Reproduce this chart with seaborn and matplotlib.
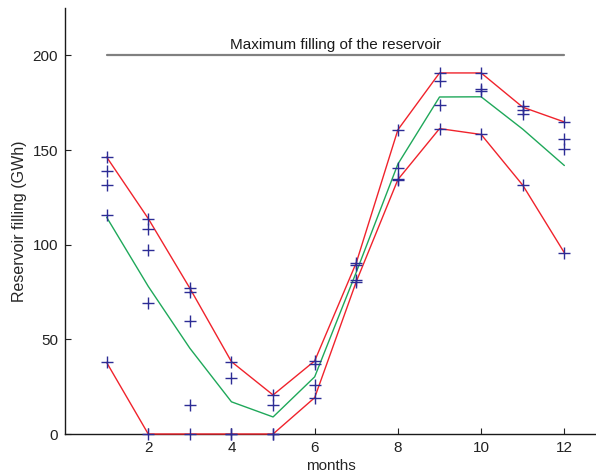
import numpy as np
import pandas as pd
import matplotlib
matplotlib.use("Agg")
import matplotlib.pyplot as plt
import seaborn as sns

# Months of the simulation year
months = [1, 2, 3, 4, 5, 6, 7, 8, 9, 10, 11, 12]

# Reservoir filling of each simulated inflow year (GWh), one list per month
scenario_fill = [
    [146.3, 138.8, 131.4, 115.6, 37.8],
    [113.8, 108.2, 97.4, 69.0, 0.0],
    [76.9, 74.8, 59.8, 15.3, 0.0],
    [38.2, 29.4, 0.0, 0.0],
    [20.6, 15.3, 0.0, 0.0],
    [38.6, 37.0, 25.9, 19.2],
    [90.5, 89.0, 81.5, 80.5],
    [160.7, 140.7, 134.9, 134.4],
    [190.7, 186.3, 173.6, 161.3],
    [190.7, 182.4, 181.2, 158.2],
    [173.1, 171.0, 169.2, 131.4],
    [164.8, 156.0, 150.4, 95.7],
]

# Envelope and mean of the scenarios (GWh)
upper_fill = [146.3, 113.8, 77.0, 38.2, 20.6, 38.6, 90.5, 160.7, 190.7, 190.7, 172.6, 164.8]
lower_fill = [37.8, 0.0, 0.0, 0.0, 0.0, 19.2, 80.5, 134.4, 161.3, 158.2, 131.4, 95.7]
mean_fill = [114.5, 78.0, 45.3, 17.0, 9.0, 30.2, 85.5, 142.6, 178.0, 178.1, 161.0, 141.8]

# Reservoir capacity
max_fill = 200
max_label = "Maximum filling of the reservoir"

x_ticks = [2, 4, 6, 8, 10, 12]
y_ticks = [0, 50, 100, 150, 200]

sns.set_style("ticks")
plt.rcParams["font.family"] = ["Liberation Sans", "DejaVu Sans"]
plt.rcParams["font.size"] = 11

points = pd.DataFrame(
    [(m, v) for m, vals in zip(months, scenario_fill) for v in vals],
    columns=["month", "fill"],
)
lines = pd.DataFrame({
    "month": months,
    "upper": upper_fill,
    "lower": lower_fill,
    "mean": mean_fill,
})
cap = pd.DataFrame({"month": [months[0], months[-1]], "fill": [max_fill, max_fill]})

fig = plt.figure(figsize=(5.96, 4.74), dpi=100)
ax = fig.add_axes([65 / 596, 40 / 474, 1 - 65 / 596, 426 / 474])

red = "#f0232c"
green = "#1fa85a"

sns.lineplot(data=cap, x="month", y="fill", ax=ax, color="#808080", linewidth=1.6)
sns.lineplot(data=lines, x="month", y="upper", ax=ax, color=red, linewidth=1.0,
             clip_on=False, zorder=3)
sns.lineplot(data=lines, x="month", y="mean", ax=ax, color=green, linewidth=1.0,
             clip_on=False, zorder=3)
sns.lineplot(data=lines, x="month", y="lower", ax=ax, color=red, linewidth=1.0,
             clip_on=False, zorder=3)
sns.scatterplot(data=points, x="month", y="fill", ax=ax, marker="+", s=70,
                color="#2c2c95", linewidth=1.0, clip_on=False, zorder=4)

ax.text((months[0] + months[-1]) / 2, max_fill + 1.8, max_label,
        ha="center", va="bottom", fontsize=11, color="#1a1a1a")

ax.set_xlim(0, 12.76)
ax.set_ylim(0, 225)
ax.set_xticks(x_ticks)
ax.set_yticks(y_ticks)
ax.tick_params(direction="in", length=4, width=0.8, pad=5, colors="#222222",
               labelsize=11)
ax.set_xlabel("months", fontsize=11, labelpad=3)
ax.set_ylabel("Reservoir filling (GWh)", fontsize=11.5, labelpad=4)
for side in ("top", "right"):
    ax.spines[side].set_visible(False)
for side in ("left", "bottom"):
    ax.spines[side].set_color("#1a1a1a")
    ax.spines[side].set_linewidth(1.0)
ax.legend_ = None

fig.savefig("out.png", dpi=100)
